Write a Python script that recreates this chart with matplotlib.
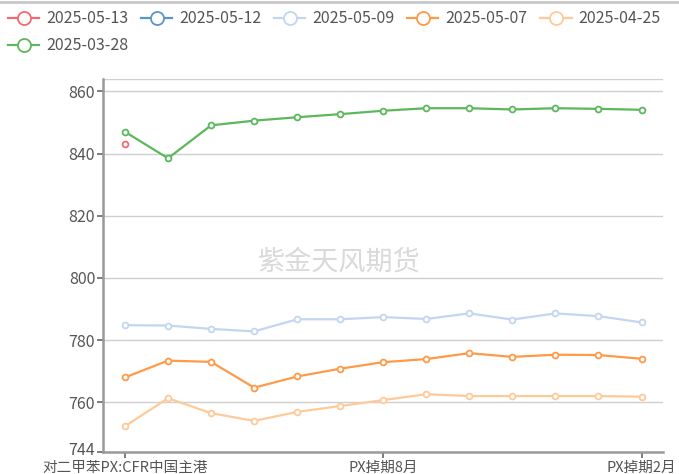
import matplotlib
matplotlib.use("Agg")
import matplotlib.pyplot as plt
import matplotlib.transforms as mtransforms
from matplotlib.lines import Line2D

plt.rcParams['font.family'] = ['Noto Sans CJK SC', 'DejaVu Sans']

categories = ["对二甲苯PX:CFR中国主港", "PX掉期3月", "PX掉期4月", "PX掉期5月", "PX掉期6月",
              "PX掉期7月", "PX掉期8月", "PX掉期9月", "PX掉期10月", "PX掉期11月",
              "PX掉期12月", "PX掉期1月", "PX掉期2月"]
tick_labels = {0: "对二甲苯PX:CFR中国主港", 6: "PX掉期8月", 12: "PX掉期2月"}

s_0513 = [843.0]
s_0512 = []
s_0509 = [784.8, 784.7, 783.6, 782.8, 786.7, 786.7, 787.4, 786.8, 788.6, 786.6, 788.6, 787.7, 785.7]
s_0507 = [768.0, 773.4, 773.0, 764.7, 768.3, 770.8, 772.9, 773.9, 775.8, 774.6, 775.3, 775.2, 774.0]
s_0425 = [752.3, 761.3, 756.5, 754.0, 756.9, 758.8, 760.7, 762.6, 762.0, 762.0, 762.0, 762.0, 761.8]
s_0328 = [847.0, 838.5, 849.1, 850.6, 851.7, 852.7, 853.8, 854.6, 854.6, 854.2, 854.6, 854.4, 854.1]

series = [
    ("2025-05-13", s_0513, "#f46a6e"),
    ("2025-05-12", s_0512, "#5b93cc"),
    ("2025-05-09", s_0509, "#c3d6ef"),
    ("2025-05-07", s_0507, "#fe9a48"),
    ("2025-04-25", s_0425, "#ffca98"),
    ("2025-03-28", s_0328, "#5cb85c"),
]

fig = plt.figure(figsize=(6.79, 4.74), dpi=100)
ax = fig.add_axes([0.1524, 0.0464, 0.9765 - 0.1524, 0.8333 - 0.0464])

handles = []
for name, vals, color in series:
    xs = list(range(len(vals)))
    if vals:
        ax.plot(xs, vals, color=color, lw=1.6, marker='o', ms=4.2,
                mfc='white', mec=color, mew=1.3, zorder=3, solid_joinstyle='round')
    handles.append(Line2D([], [], color=color, lw=1.6, marker='o', ms=9.4,
                          mfc='white', mec=color, mew=1.3))

ax.set_xlim(-0.5, len(categories) - 0.5)
ax.set_ylim(744, 864)
yt = [744, 760, 780, 800, 820, 840, 860]
ax.set_yticks(yt)
ax.set_yticklabels([str(v) for v in yt])
ax.set_xticks(list(tick_labels.keys()))
ax.set_xticklabels(list(tick_labels.values()))

for v in [760, 780, 800, 820, 840, 860, 864]:
    ax.axhline(v, color='#cfcfcf', lw=1.0, zorder=1)

for side in ['top', 'right']:
    ax.spines[side].set_visible(False)
ax.spines['left'].set_color('#999999')
ax.spines['left'].set_linewidth(1.8)
ax.spines['bottom'].set_color('#999999')
ax.spines['bottom'].set_linewidth(1.8)
ax.tick_params(axis='both', colors='#666666', labelcolor='#555555',
               length=4, width=1.2, pad=2)
ax.tick_params(axis='y', labelsize=11.5)
ax.tick_params(axis='x', labelsize=10.5, pad=2.2)

# lift the bottom y label a few pixels so it clears the category labels
lift = mtransforms.ScaledTranslation(0, 3.5 / 100, fig.dpi_scale_trans)
for lbl in ax.get_yticklabels():
    if lbl.get_text() == "744":
        lbl.set_transform(lbl.get_transform() + lift)

fig.text(0.5, 1 - 262 / 474, "紫金天风期货", ha='center', va='center',
         fontsize=19.5, color='#d9d9d9', zorder=0)

# legend fills column-major; order so the first row holds five entries
order = [0, 5, 1, 2, 3, 4]
fig.legend([handles[i] for i in order], [series[i][0] for i in order],
           loc='upper left', bbox_to_anchor=(0.0, 0.995),
           ncol=5, frameon=False, fontsize=11.5, handlelength=1.95, handletextpad=0.44,
           columnspacing=0.8, labelcolor='#555555', borderaxespad=0.15, labelspacing=0.62,
           borderpad=0.35)

fig.add_artist(Line2D([0, 1], [0.996, 0.996], color='#c8c8c8', lw=2.0, transform=fig.transFigure))

fig.savefig("out.png", dpi=100)
